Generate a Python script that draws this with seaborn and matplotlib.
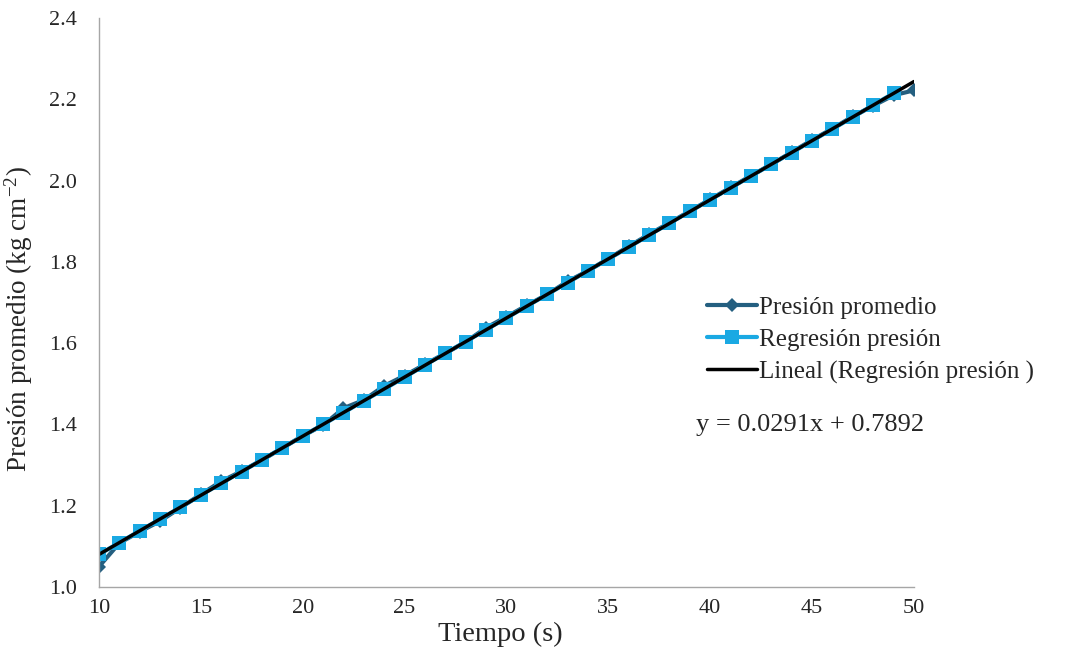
import numpy as np
import pandas as pd
import matplotlib
matplotlib.use("Agg")
import matplotlib.pyplot as plt
import seaborn as sns

# tiempo (s)
tiempo_prom = list(range(10, 51))
tiempo_reg = list(range(10, 50))

# presion promedio medida (kg cm-2)
presion_prom = [1.050, 1.108, 1.136, 1.162, 1.195, 1.228, 1.260, 1.285, 1.312, 1.342,
                1.372, 1.398, 1.440, 1.460, 1.495, 1.520, 1.548, 1.575, 1.603, 1.638,
                1.665, 1.693, 1.720, 1.752, 1.778, 1.808, 1.838, 1.868, 1.896, 1.925,
                1.954, 1.983, 2.012, 2.040, 2.070, 2.100, 2.128, 2.158, 2.184, 2.210,
                2.222]

# presion de la regresion
presion_reg = [1.080, 1.109, 1.138, 1.167, 1.196, 1.226, 1.255, 1.284, 1.313, 1.342,
               1.371, 1.400, 1.429, 1.458, 1.487, 1.516, 1.546, 1.575, 1.604, 1.633,
               1.662, 1.691, 1.720, 1.749, 1.778, 1.807, 1.836, 1.866, 1.895, 1.924,
               1.953, 1.982, 2.011, 2.040, 2.069, 2.098, 2.127, 2.156, 2.186, 2.215]

x_ticks = [10, 15, 20, 25, 30, 35, 40, 45, 50]
y_ticks = [1.0, 1.2, 1.4, 1.6, 1.8, 2.0, 2.2, 2.4]

sns.set_style("white")
plt.rcParams['font.family'] = ['Liberation Serif', 'DejaVu Serif']
plt.rcParams['mathtext.fontset'] = 'custom'
plt.rcParams['mathtext.rm'] = 'Liberation Serif'
plt.rcParams['mathtext.it'] = 'Liberation Serif:italic'

df_prom = pd.DataFrame({'t': tiempo_prom, 'p': presion_prom})
df_reg = pd.DataFrame({'t': tiempo_reg, 'p': presion_reg})

fig = plt.figure(figsize=(10.71, 6.53), dpi=100)
ax = fig.add_axes([0.0924, 0.1011, 0.761, 0.8713])

sns.lineplot(data=df_prom, x='t', y='p', ax=ax, color='#245f80', lw=3,
             marker='D', markersize=7, markeredgewidth=0, label='Presión promedio')
sns.lineplot(data=df_reg, x='t', y='p', ax=ax, color='#1aa9e3', lw=3,
             marker='s', markersize=9.5, markeredgewidth=0, label='Regresión presión')

# linea de tendencia lineal
m, b = np.polyfit(tiempo_reg, presion_reg, 1)
xt = np.array([10, 50])
ax.plot(xt, m * xt + b, color='black', lw=2.5, label='Lineal (Regresión presión )')

ax.set_xlim(10, 50)
ax.set_ylim(1.0, 2.4)
ax.set_xticks(x_ticks)
ax.set_yticks(y_ticks)
ax.set_yticklabels([f'{v:.1f}' for v in y_ticks])
ax.tick_params(axis='both', labelsize=16, length=5, color='#a6a6a6', direction='out')
ax.tick_params(axis='x', pad=4)
ax.tick_params(axis='y', pad=11)
sns.despine(ax=ax)
for s in ['left', 'bottom']:
    ax.spines[s].set_color('#a6a6a6')
    ax.spines[s].set_linewidth(1)

ax.set_xlabel('Tiempo (s)', fontsize=20.5, labelpad=0)
ax.xaxis.set_label_coords(0.492, -0.062)
ax.set_ylabel('Presión promedio (kg cm$^{\\mathregular{-2}}$)', fontsize=19.5)
ax.yaxis.set_label_coords(-0.079, 0.47)

leg = ax.legend(loc='center left', bbox_to_anchor=(0.746, 0.434), frameon=False,
                fontsize=18, handlelength=2.0, handletextpad=0.1, labelspacing=0.38,
                borderpad=0, borderaxespad=0)
ax.text(0.732, 0.285, 'y = 0.0291x + 0.7892', transform=ax.transAxes,
        fontsize=19, va='center', ha='left')

fig.savefig('out.png', dpi=100)
